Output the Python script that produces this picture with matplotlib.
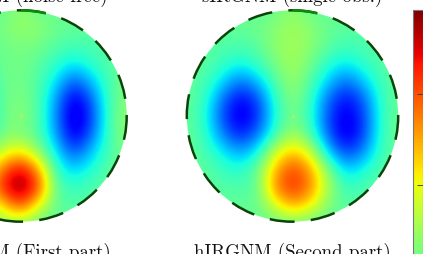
import matplotlib
matplotlib.use("Agg")
import matplotlib.pyplot as plt
from matplotlib.patches import Circle, Arc
from matplotlib.cm import ScalarMappable
from matplotlib.colors import Normalize
from matplotlib.transforms import Affine2D

plt.rcParams['font.family'] = ['cmr10', 'DejaVu Serif']
plt.rcParams['axes.unicode_minus'] = False
plt.rcParams['axes.formatter.use_mathtext'] = True

W, H = 423, 254

titles_top = ["sIRGNM (noise-free)", "sIRGNM (single obs.)"]
titles_bottom = ["hIRGNM (First part)", "hIRGNM (Second part)"]
cbar_ticks = [0.636, 0.825]

field_left = [
    [.47,.47,.47,.47,.47,.47,.53,.47,.47,.47,.47,.47,.47],
    [.47,.47,.47,.47,.47,.50,.53,.52,.48,.47,.47,.47,.47],
    [.47,.47,.47,.47,.47,.48,.50,.49,.45,.43,.44,.46,.47],
    [.47,.47,.45,.42,.45,.48,.49,.46,.41,.36,.41,.45,.48],
    [.47,.45,.38,.30,.38,.48,.49,.45,.35,.21,.32,.44,.50],
    [.47,.43,.32,.22,.34,.48,.50,.45,.28,.09,.22,.44,.51],
    [.47,.42,.30,.20,.33,.48,.52,.45,.26,.05,.18,.44,.53],
    [.47,.43,.32,.25,.37,.50,.50,.45,.28,.08,.22,.44,.52],
    [.47,.45,.40,.36,.48,.60,.66,.52,.35,.19,.32,.44,.50],
    [.47,.47,.45,.44,.60,.80,.93,.74,.40,.33,.39,.46,.49],
    [.47,.47,.47,.47,.66,.90,1.0,.85,.45,.41,.44,.47,.48],
    [.47,.47,.47,.47,.56,.70,.86,.64,.46,.45,.46,.47,.47],
    [.47,.47,.47,.47,.48,.52,.54,.47,.47,.47,.47,.47,.47],
]
field_right = [
    [.47,.47,.47,.47,.47,.47,.53,.47,.47,.47,.47,.47,.47],
    [.47,.47,.47,.47,.48,.52,.54,.52,.47,.46,.46,.47,.47],
    [.47,.46,.45,.44,.46,.52,.55,.52,.46,.43,.44,.46,.47],
    [.47,.46,.42,.38,.42,.50,.55,.49,.40,.36,.41,.45,.47],
    [.47,.44,.35,.24,.32,.45,.54,.45,.33,.23,.33,.43,.47],
    [.47,.42,.24,.12,.19,.41,.52,.42,.23,.13,.22,.42,.47],
    [.47,.40,.20,.08,.16,.39,.50,.41,.19,.09,.18,.41,.48],
    [.47,.42,.25,.14,.23,.42,.55,.44,.21,.08,.18,.42,.48],
    [.47,.44,.36,.28,.36,.60,.70,.60,.32,.17,.26,.43,.47],
    [.47,.46,.42,.39,.47,.72,.85,.74,.50,.32,.38,.45,.47],
    [.47,.47,.45,.44,.46,.78,.87,.78,.55,.41,.44,.46,.47],
    [.47,.47,.47,.47,.47,.62,.75,.66,.50,.45,.46,.47,.47],
    [.47,.47,.47,.47,.47,.47,.50,.47,.47,.47,.47,.47,.47],
]
fields = [field_left, field_right]

centers_px = [(21.0, 116.0), (292.5, 116.0)]
radius_px = 105.7
half = 1.2
dark = "#0a440a"
bright = "#0a8a0a"

fig = plt.figure(figsize=(W / 100, H / 100), dpi=100)
norm = Normalize(0, 1)

for field, (cx, cy), tt, tb in zip(fields, centers_px, titles_top, titles_bottom):
    s = radius_px * half
    ax = fig.add_axes([(cx - s) / W, 1 - (cy + s) / H, 2 * s / W, 2 * s / H])
    ax.axis("off")
    step = 1 / 6
    im = ax.imshow(field, cmap="jet", norm=norm, interpolation="bicubic",
                   interpolation_stage="data", origin="upper",
                   extent=(-1 - step / 2, 1 + step / 2, -1 - step / 2, 1 + step / 2))
    clip = Circle((0, 0), 1, transform=ax.transData)
    im.set_clip_path(clip)
    ax.set_xlim(-half, half)
    ax.set_ylim(-half, half)
    ax.plot([0], [0], marker="+", ms=3, mew=0.5, color="#d8e840", ls="none")
    mirror = Affine2D().scale(-1, 1) + ax.transData
    ring = Arc((0, 0), 2, 2, angle=90, theta1=0, theta2=360, color=dark, lw=1.8,
               linestyle=(0, (10.0, 6.5)), clip_on=False, capstyle="butt")
    ax.add_patch(ring)
    ring.set_transform(mirror)
    top = Arc((0, 0), 2, 2, theta1=76.5, theta2=90, color=bright, lw=1.8,
              clip_on=False, capstyle="butt")
    ax.add_patch(top)
    fig.text(cx / W, 1 - 2 / H, tt, ha="center", va="baseline", fontsize=13.6, color="#111111")
    fig.text(cx / W, 1 - 258 / H, tb, ha="center", va="baseline", fontsize=13.6, color="#111111")

cax = fig.add_axes([412.5 / W, 1 - 490 / H, 10 / W, 480 / H])
cb = fig.colorbar(ScalarMappable(norm=norm, cmap="jet"), cax=cax)
cb.set_ticks(cbar_ticks)
cb.ax.tick_params(direction="in", length=4, width=0.6, labelright=False, color="#333333")
cb.outline.set_edgecolor("#777777")
cb.outline.set_linewidth(0.8)

fig.savefig("out.png", dpi=100)
